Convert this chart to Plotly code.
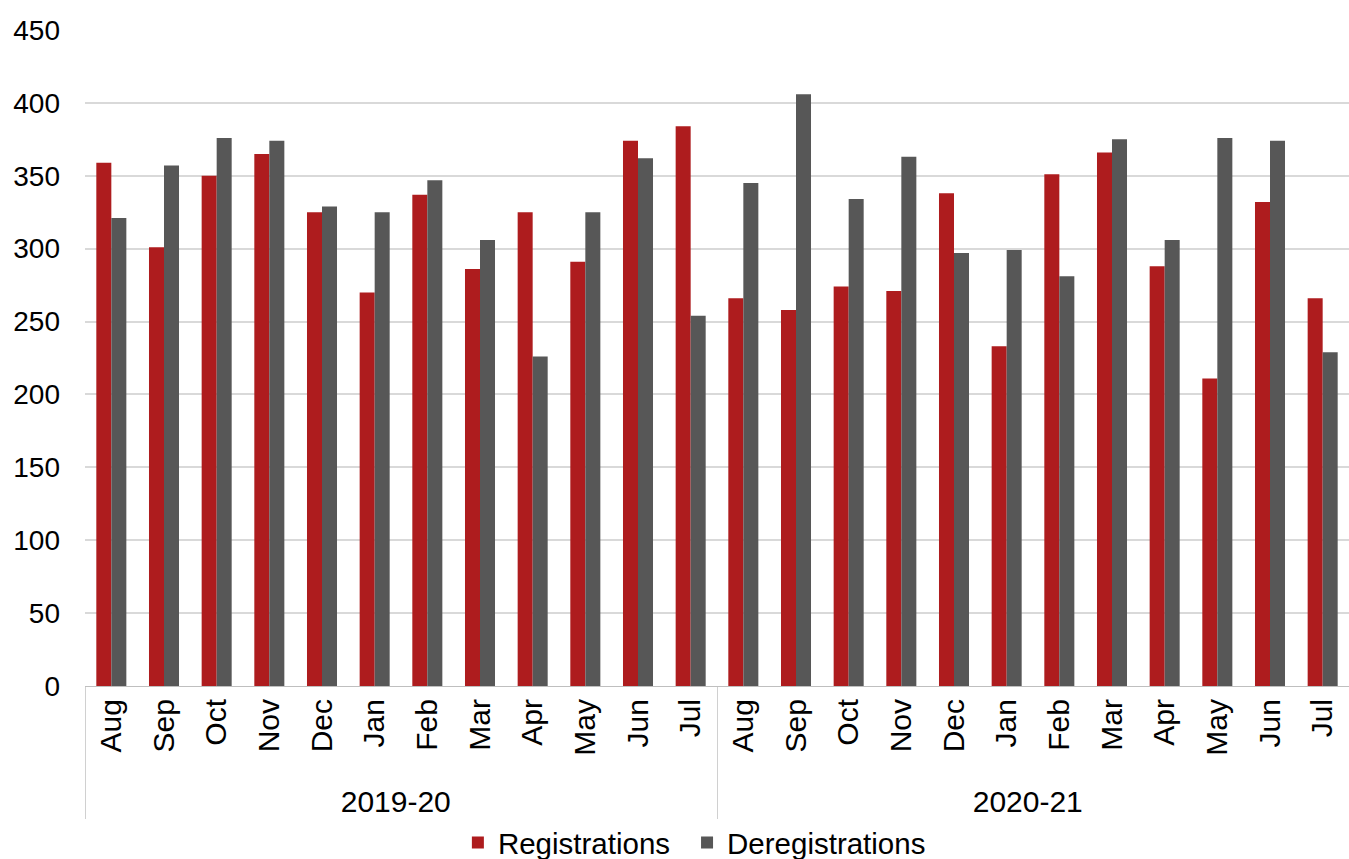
import plotly.graph_objects as go

years = ["2019-20"] * 12 + ["2020-21"] * 12
months = ["Aug", "Sep", "Oct", "Nov", "Dec", "Jan", "Feb", "Mar", "Apr", "May", "Jun", "Jul"] * 2
registrations = [359, 301, 350, 365, 325, 270, 337, 286, 325, 291, 374, 384,
                 266, 258, 274, 271, 338, 233, 351, 366, 288, 211, 332, 266]
deregistrations = [321, 357, 376, 374, 329, 325, 347, 306, 226, 325, 362, 254,
                   345, 406, 334, 363, 297, 299, 281, 375, 306, 376, 374, 229]

font_family = "Liberation Sans, Arial, sans-serif"

fig = go.Figure()
fig.add_trace(go.Bar(x=[years, months], y=registrations, name="Registrations",
                     marker=dict(color="#AE1C1E", line=dict(width=0)), legend="legend"))
fig.add_trace(go.Bar(x=[years, months], y=deregistrations, name="Deregistrations",
                     marker=dict(color="#575757", line=dict(width=0)), legend="legend2"))

legend_common = dict(orientation="h", xanchor="left", y=-0.239, yanchor="middle",
                     font=dict(size=29.5), itemwidth=30, bgcolor="rgba(0,0,0,0)")

fig.update_layout(
    width=1349, height=859,
    margin=dict(l=85, r=0, t=30, b=173, autoexpand=False),
    paper_bgcolor="white", plot_bgcolor="white",
    barmode="group", bargap=0.43, bargroupgap=0,
    font=dict(family=font_family, size=28, color="black"),
    legend=dict(x=0.295, **legend_common),
    legend2=dict(x=0.4763, **legend_common),
    showlegend=True,
)
fig.update_xaxes(type="multicategory", tickangle=-90, showline=True, linecolor="#BFBFBF",
                 linewidth=1, showdividers=True, dividercolor="#D0D0D0", dividerwidth=1,
                 tickfont=dict(size=30, color="black"), ticks="", showgrid=False,
                 automargin=False)
fig.update_yaxes(range=[0, 450], dtick=50, showgrid=True, gridcolor="#D9D9D9", gridwidth=2,
                 zeroline=False, showline=False, tickfont=dict(size=28, color="black"),
                 ticks="", ticklabelstandoff=24, automargin=False)

fig.write_html("out.html")
